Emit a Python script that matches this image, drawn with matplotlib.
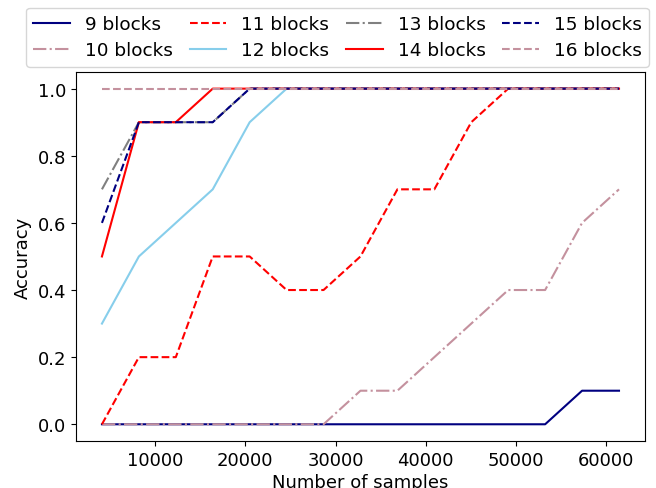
import matplotlib
matplotlib.use("Agg")
import matplotlib.pyplot as plt

samples = [4096 * k for k in range(1, 16)]
block_labels = ["9 blocks", "10 blocks", "11 blocks", "12 blocks",
                "13 blocks", "14 blocks", "15 blocks", "16 blocks"]

acc_9 = [0, 0, 0, 0, 0, 0, 0, 0, 0, 0, 0, 0, 0, 0.1, 0.1]
acc_10 = [0, 0, 0, 0, 0, 0, 0, 0.1, 0.1, 0.2, 0.3, 0.4, 0.4, 0.6, 0.7]
acc_11 = [0, 0.2, 0.2, 0.5, 0.5, 0.4, 0.4, 0.5, 0.7, 0.7, 0.9, 1.0, 1.0, 1.0, 1.0]
acc_12 = [0.3, 0.5, 0.6, 0.7, 0.9, 1.0, 1.0, 1.0, 1.0, 1.0, 1.0, 1.0, 1.0, 1.0, 1.0]
acc_13 = [0.7, 0.9, 0.9, 0.9, 1.0, 1.0, 1.0, 1.0, 1.0, 1.0, 1.0, 1.0, 1.0, 1.0, 1.0]
acc_14 = [0.5, 0.9, 0.9, 1.0, 1.0, 1.0, 1.0, 1.0, 1.0, 1.0, 1.0, 1.0, 1.0, 1.0, 1.0]
acc_15 = [0.6, 0.9, 0.9, 0.9, 1.0, 1.0, 1.0, 1.0, 1.0, 1.0, 1.0, 1.0, 1.0, 1.0, 1.0]
acc_16 = [1.0] * 15

series = [acc_9, acc_10, acc_11, acc_12, acc_13, acc_14, acc_15, acc_16]
colors = ["navy", "#c4919e", "red", "skyblue", "gray", "red", "navy", "#c4919e"]
styles = ["-", "-.", "--", "-", "-.", "-", "--", "--"]

fig = plt.figure(figsize=(6.56, 4.89), dpi=100)
ax = fig.add_axes([0.116, 0.096, 0.867, 0.755])

for ys, lab, c, ls in zip(series, block_labels, colors, styles):
    ax.plot(samples, ys, color=c, linestyle=ls, lw=1.5, label=lab)

ax.set_ylim(-0.05, 1.05)
ax.set_xticks([10000, 20000, 30000, 40000, 50000, 60000])
ax.set_yticks([0.0, 0.2, 0.4, 0.6, 0.8, 1.0])
ax.tick_params(labelsize=13)
ax.set_xlabel("Number of samples", fontsize=13, labelpad=3)
ax.set_ylabel("Accuracy", fontsize=13)

fig.legend(loc="upper center", bbox_to_anchor=(0.5145, 0.99), ncol=4,
           fontsize=13.3, handlelength=2.0, columnspacing=0.9,
           borderaxespad=0.2, labelspacing=0.45)

fig.savefig("out.png", dpi=100)
